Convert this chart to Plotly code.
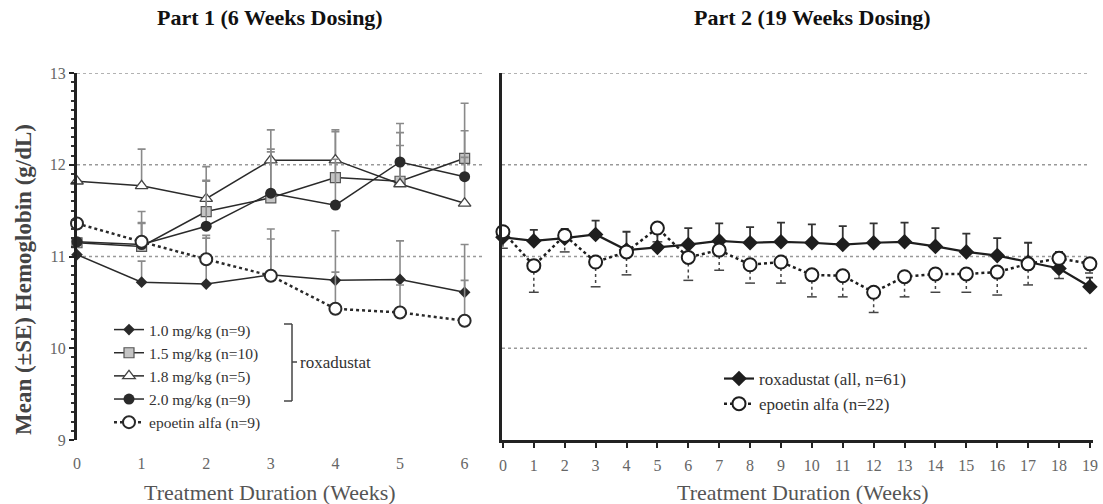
import plotly.graph_objects as go

# ---------------- data ----------------
weeks_p1 = [0, 1, 2, 3, 4, 5, 6]
dose10 = [11.02, 10.72, 10.70, 10.80, 10.74, 10.75, 10.61]
dose10_se = [0, 0.23, 0.50, 0.50, 0.54, 0.42, 0.52]
dose15 = [11.15, 11.11, 11.49, 11.64, 11.86, 11.82, 12.07]
dose15_se = [0, 0.38, 0.33, 0.50, 0.50, 0.53, 0.60]
dose18 = [11.82, 11.77, 11.63, 12.05, 12.05, 11.79, 11.58]
dose18_se = [0, 0.40, 0.35, 0.33, 0.33, 0.42, 0.50]
dose20 = [11.16, 11.13, 11.33, 11.69, 11.56, 12.03, 11.87]
dose20_se = [0, 0.24, 0.50, 0.48, 0.50, 0.42, 0.50]
epo_p1 = [11.36, 11.16, 10.97, 10.79, 10.43, 10.39, 10.30]
epo_p1_se = [0, 0.20, 0.26, 0.40, 0.40, 0.30, 0.44]

weeks_p2 = list(range(20))
rox_p2 = [11.21, 11.17, 11.20, 11.24, 11.07, 11.10, 11.13, 11.17, 11.15, 11.16,
          11.15, 11.13, 11.15, 11.16, 11.11, 11.05, 11.01, 10.94, 10.87, 10.67]
rox_p2_se = [0.08, 0.12, 0.10, 0.15, 0.20, 0.15, 0.18, 0.19, 0.17, 0.21,
             0.20, 0.20, 0.21, 0.21, 0.20, 0.20, 0.19, 0.21, 0.18, 0.10]
epo_p2 = [11.27, 10.90, 11.23, 10.94, 11.05, 11.31, 10.99, 11.07, 10.91, 10.94,
          10.80, 10.79, 10.61, 10.78, 10.81, 10.81, 10.83, 10.92, 10.98, 10.92]
epo_p2_se = [0.18, 0.29, 0.18, 0.27, 0.25, 0.15, 0.25, 0.22, 0.20, 0.23,
             0.24, 0.23, 0.22, 0.22, 0.20, 0.20, 0.25, 0.23, 0.22, 0.10]

labels_p1 = ["1.0 mg/kg (n=9)", "1.5 mg/kg (n=10)", "1.8 mg/kg (n=5)",
             "2.0 mg/kg (n=9)", "epoetin alfa (n=9)"]
labels_p2 = ["roxadustat (all, n=61)", "epoetin alfa (n=22)"]
grid_p1 = [11, 12, 13]
grid_p2 = [10, 11, 12, 13]

# ---------------- style ----------------
W, H = 1103, 504
SERIF = "Liberation Serif"
LINE = "#2a2a2a"
ERR = "#8a8a8a"

def px(xp):
    return xp / W

def py(yp):
    return (H - yp) / H

fig = go.Figure()

def err_up(se, color=ERR, width=1.6):
    return dict(type="data", array=se, arrayminus=[0] * len(se), symmetric=False,
                color=color, thickness=width, width=4)

# Part 1 traces
fig.add_trace(go.Scatter(x=weeks_p1, y=dose10, name=labels_p1[0], mode="lines+markers",
                         line=dict(color=LINE, width=1.5),
                         marker=dict(symbol="diamond", size=9, color=LINE),
                         error_y=err_up(dose10_se), cliponaxis=False,
                         xaxis="x", yaxis="y", legend="legend"))
fig.add_trace(go.Scatter(x=weeks_p1, y=dose15, name=labels_p1[1], mode="lines+markers",
                         line=dict(color=LINE, width=1.5),
                         marker=dict(symbol="square", size=10, color="#c4c4c4",
                                     line=dict(color="#555", width=1.2)),
                         error_y=err_up(dose15_se), cliponaxis=False,
                         xaxis="x", yaxis="y", legend="legend"))
fig.add_trace(go.Scatter(x=weeks_p1, y=dose18, name=labels_p1[2], mode="lines+markers",
                         line=dict(color=LINE, width=1.5),
                         marker=dict(symbol="triangle-up", size=11, color="white",
                                     line=dict(color="#444", width=1.3)),
                         error_y=err_up(dose18_se), cliponaxis=False,
                         xaxis="x", yaxis="y", legend="legend"))
fig.add_trace(go.Scatter(x=weeks_p1, y=dose20, name=labels_p1[3], mode="lines+markers",
                         line=dict(color=LINE, width=1.5),
                         marker=dict(symbol="circle", size=11, color=LINE),
                         error_y=err_up(dose20_se), cliponaxis=False,
                         xaxis="x", yaxis="y", legend="legend"))
fig.add_trace(go.Scatter(x=weeks_p1, y=epo_p1, name=labels_p1[4], mode="lines+markers",
                         line=dict(color=LINE, width=2.5, dash="dot"),
                         marker=dict(symbol="circle", size=12, color="white",
                                     line=dict(color=LINE, width=2)),
                         error_y=err_up(epo_p1_se), cliponaxis=False,
                         xaxis="x", yaxis="y", legend="legend"))

# Part 2: epoetin downward dotted error bars built from data
ex, ey = [], []
for w, v, s in zip(weeks_p2, epo_p2, epo_p2_se):
    ex += [w, w, None]
    ey += [v, v - s, None]
fig.add_trace(go.Scatter(x=ex, y=ey, mode="lines", showlegend=False, hoverinfo="skip",
                         line=dict(color="#444", width=1.5, dash="dot"),
                         xaxis="x2", yaxis="y2"))
fig.add_trace(go.Scatter(x=weeks_p2, y=[v - s for v, s in zip(epo_p2, epo_p2_se)],
                         mode="markers", showlegend=False, hoverinfo="skip",
                         marker=dict(symbol="line-ew", size=7,
                                     line=dict(color="#444", width=1.5)),
                         xaxis="x2", yaxis="y2"))

fig.add_trace(go.Scatter(x=weeks_p2, y=rox_p2, name=labels_p2[0], mode="lines+markers",
                         line=dict(color="#1e1e1e", width=2.2),
                         marker=dict(symbol="diamond", size=12, color="#1e1e1e"),
                         error_y=err_up(rox_p2_se, color="#333", width=1.8),
                         cliponaxis=False, xaxis="x2", yaxis="y2", legend="legend2"))
fig.add_trace(go.Scatter(x=weeks_p2, y=epo_p2, name=labels_p2[1], mode="lines+markers",
                         line=dict(color="#1e1e1e", width=2.5, dash="dot"),
                         marker=dict(symbol="circle", size=13, color="white",
                                     line=dict(color="#1e1e1e", width=2)),
                         cliponaxis=False, xaxis="x2", yaxis="y2", legend="legend2"))

# ---------------- axes ----------------
xd1 = [px(77), px(484)]
xd2 = [px(502), px(1093)]
yd = [py(440), py(73)]

tickfont = dict(family=SERIF, size=16, color="#666")

fig.update_layout(
    width=W, height=H, margin=dict(l=0, r=0, t=0, b=0, autoexpand=False),
    plot_bgcolor="white", paper_bgcolor="white",
    xaxis=dict(domain=xd1, range=[0, 6.3], tickvals=weeks_p1, showgrid=False,
               zeroline=False, showline=False, ticks="", tickfont=tickfont,
               ticklabelstandoff=12, anchor="y", automargin=False),
    yaxis=dict(domain=yd, range=[9, 13], tickvals=[9, 10, 11, 12, 13], showgrid=False,
               zeroline=False, showline=True, linewidth=3, linecolor="#222",
               ticks="outside", ticklen=5, tickwidth=2, tickcolor="#222",
               minor=dict(dtick=0.1, ticks="outside", ticklen=3, tickwidth=1.5,
                          tickcolor="#333"),
               tickfont=tickfont, anchor="x", automargin=False),
    xaxis2=dict(domain=xd2, range=[-0.03, 19.1], tickvals=weeks_p2, showgrid=False,
                zeroline=False, showline=True, linewidth=3, linecolor="#222",
                ticks="outside", ticklen=5, tickwidth=2, tickcolor="#222",
                tickfont=tickfont, ticklabelstandoff=4, anchor="y2", automargin=False),
    yaxis2=dict(domain=yd, range=[9, 13], showgrid=False, zeroline=False,
                showline=True, linewidth=3, linecolor="#222", ticks="",
                showticklabels=False, anchor="x2", automargin=False),
    legend=dict(x=px(109), y=py(313), xanchor="left", yanchor="top",
                bgcolor="rgba(0,0,0,0)", font=dict(family=SERIF, size=15.5, color="#333"),
                itemwidth=30, tracegroupgap=0),
    legend2=dict(x=px(719), y=py(361), xanchor="left", yanchor="top",
                 bgcolor="rgba(0,0,0,0)", font=dict(family=SERIF, size=17, color="#333"),
                 itemwidth=30),
    showlegend=True,
)

shapes = []
for g in grid_p1:
    shapes.append(dict(type="line", xref="x domain", yref="y", x0=0, x1=1, y0=g, y1=g,
                       line=dict(color="#999", width=1.5, dash="dot"), layer="below"))
for g in grid_p2:
    shapes.append(dict(type="line", xref="x2 domain", yref="y2", x0=0, x1=0.99, y0=g, y1=g,
                       line=dict(color="#999", width=1.5, dash="dot"), layer="below"))
# legend bracket
bx = px(292)
shapes += [
    dict(type="line", xref="paper", yref="paper", x0=bx, x1=bx, y0=py(324), y1=py(401),
         line=dict(color="#444", width=1.5)),
    dict(type="line", xref="paper", yref="paper", x0=px(284), x1=bx, y0=py(324), y1=py(324),
         line=dict(color="#444", width=1.5)),
    dict(type="line", xref="paper", yref="paper", x0=px(284), x1=bx, y0=py(401), y1=py(401),
         line=dict(color="#444", width=1.5)),
    dict(type="line", xref="paper", yref="paper", x0=bx, x1=px(297), y0=py(362), y1=py(362),
         line=dict(color="#444", width=1.5)),
]
fig.update_layout(shapes=shapes)

def note(text, x, y, size, bold=False, color="#333", angle=0, xanchor="center"):
    return dict(text=f"<b>{text}</b>" if bold else text, x=px(x), y=py(y),
                xref="paper", yref="paper", xanchor=xanchor, yanchor="middle",
                showarrow=False, textangle=angle,
                font=dict(family=SERIF, size=size, color=color))

ann = [
    note("Part 1 (6 Weeks Dosing)", 270, 18, 22, bold=True, color="#111"),
    note("Part 2 (19 Weeks Dosing)", 812, 18, 22, bold=True, color="#111"),
    note("Mean (±SE) Hemoglobin (g/dL)", 23, 280, 23, bold=True, color="#444", angle=-90),
    note("Treatment Duration (Weeks)", 270, 492, 22, color="#555"),
    note("Treatment Duration (Weeks)", 803, 492, 22, color="#555"),
    note("roxadustat", 298, 362, 17, xanchor="left"),
]
fig.update_layout(annotations=ann)

fig.write_html("out.html", config={"displayModeBar": False},
               post_script="document.body.style.margin='0';document.body.style.overflow='hidden';")
